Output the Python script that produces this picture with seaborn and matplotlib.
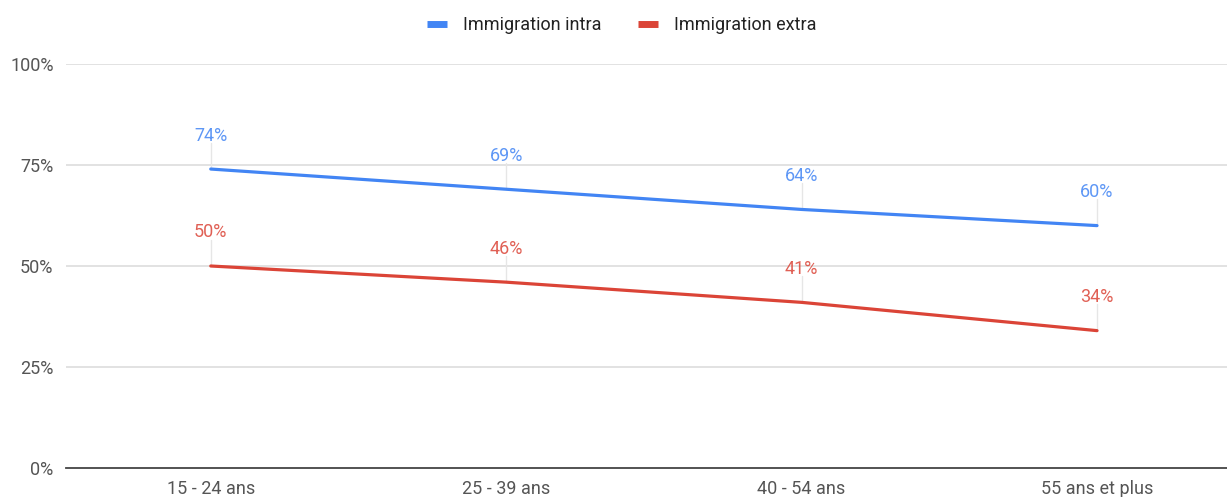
import matplotlib
matplotlib.use("Agg")
import matplotlib.pyplot as plt
import seaborn as sns
import pandas as pd

# Data
categories = ["15 - 24 ans", "25 - 39 ans", "40 - 54 ans", "55 ans et plus"]
intra = [74, 69, 64, 60]
extra = [50, 46, 41, 34]
series_names = ["Immigration intra", "Immigration extra"]
y_ticks = [0, 25, 50, 75, 100]
y_tick_labels = ["0%", "25%", "50%", "75%", "100%"]

colors = {"Immigration intra": "#4285F4", "Immigration extra": "#DB4437"}

sns.set_style("white")
plt.rcParams["font.family"] = ["Roboto", "DejaVu Sans"]

df = pd.DataFrame({
    "cat": list(range(len(categories))) * 2,
    "value": intra + extra,
    "series": [series_names[0]] * len(intra) + [series_names[1]] * len(extra),
})

fig = plt.figure(figsize=(12.27, 4.97), dpi=100)
W, H = 1227, 497
ax = fig.add_axes([66 / W, 1 - 468 / H, (1227 - 66) / W, (468 - 64) / H])

sns.lineplot(data=df, x="cat", y="value", hue="series", palette=colors,
             linewidth=2.3, ax=ax, legend=False, zorder=3)

ax.set_xlim(-0.49, 3.44)
ax.set_ylim(0, 100)
ax.set_yticks(y_ticks)
ax.set_yticklabels(y_tick_labels)
ax.set_xticks(range(len(categories)))
ax.set_xticklabels(categories)
ax.set_xlabel("")
ax.set_ylabel("")
ax.tick_params(axis="both", length=0, labelsize=13, colors="#555555")
ax.tick_params(axis="x", pad=9)
ax.tick_params(axis="y", pad=9)

for y in y_ticks[1:]:
    ax.axhline(y, color="#dddddd", linewidth=1.2, zorder=1)

for side in ["top", "right", "left"]:
    ax.spines[side].set_visible(False)
ax.spines["bottom"].set_color("#444444")
ax.spines["bottom"].set_linewidth(1.3)

# Value labels with short leader lines
for name, vals in [(series_names[0], intra), (series_names[1], extra)]:
    c = colors[name]
    for i, v in enumerate(vals):
        ax.plot([i, i], [v, v + 6.5], color="#e6e6e6", linewidth=1, zorder=2)
        ax.text(i, v + 8.3, f"{v}%", ha="center", va="center", fontsize=13,
                color=c, alpha=0.85, zorder=4)

# Legend
handles = [plt.Line2D([0], [0], color=colors[n], linewidth=5, solid_capstyle="butt")
           for n in series_names]
fig.legend(handles, series_names, loc="center", bbox_to_anchor=(622 / W, 1 - 25 / H),
           ncol=2, frameon=False, fontsize=13, handlelength=1.1, columnspacing=2.0,
           handletextpad=0.9, labelcolor="#222222")

fig.savefig("out.png", dpi=100)
